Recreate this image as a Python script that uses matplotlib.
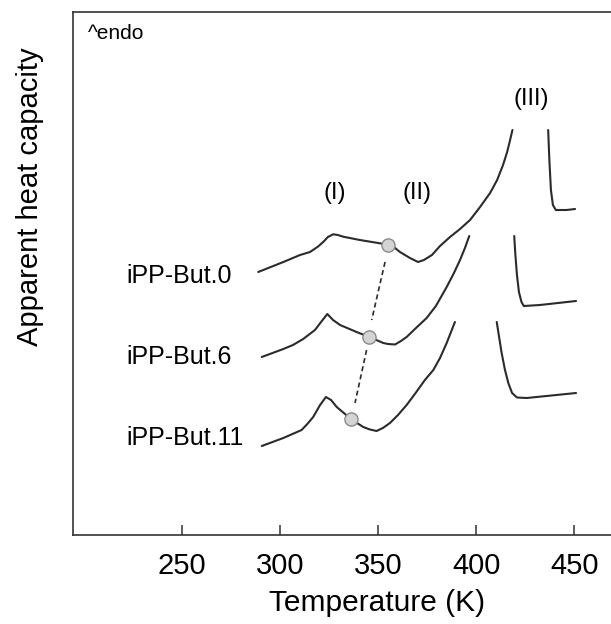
import matplotlib
matplotlib.use("Agg")
import matplotlib.pyplot as plt

plt.rcParams['font.family'] = ['Liberation Sans', 'DejaVu Sans']

# apparent heat capacity traces (arbitrary units, curves offset vertically)
but0_T = [289, 301.8, 310.3, 315.4, 319.5, 322.1, 324.5, 327.2, 329.6, 332.3, 340.8, 351, 355.2, 358.7,
          361.2, 366.3, 370.4, 373.4, 377.5, 381.6, 386.7, 391.8, 396.9, 402, 407.1, 410.7, 413.7, 415.8,
          417.3, 418.5]
but0_cp = [263, 273, 280, 283, 288.5, 293, 298, 300.7, 300, 298.3, 295, 291.7, 290, 287,
           283, 277, 273, 275, 280, 289, 298, 306, 315, 328, 342, 355, 370, 383,
           395, 405]
but0_T2 = [436.7, 437.3, 438.1, 439.1, 440.6, 446.1, 450.4]
but0_cp2 = [405, 375, 345, 330, 325, 325, 326]

but6_T = [290.8, 301.8, 306.7, 311.9, 317.9, 321.0, 324.2, 327.1, 330.7, 339.1, 345.6, 352.7, 355.1, 358.7,
          361.7, 364.6, 369.9, 374.8, 379.5, 385.0, 388.7, 391.8, 394.3, 396.5]
but6_cp = [178, 186, 190, 196, 205, 213, 221, 215, 210, 203, 198, 192, 191, 190.5,
           194, 198, 208, 217, 229, 248, 262, 275, 287, 299]
but6_T2 = [419.4, 420.0, 420.8, 421.8, 423.1, 424.3, 432.5, 450.9]
but6_cp2 = [299, 280, 260, 243, 233, 229, 230, 234]

but11_T = [290.8, 301.8, 311.1, 314.0, 317.0, 320.5, 323.5, 326.1, 329.0, 336.2, 342.5, 345.9, 349.3, 352.5,
           356.1, 360.2, 364.6, 368.8, 373.9, 378.2, 381.6, 385.0, 387.2, 389.2]
but11_cp = [89, 97, 105, 111, 118, 130, 138, 135, 128, 116, 108, 105.5, 104, 107,
            112, 120, 130, 141, 155, 165, 177, 192, 203, 213]
but11_T2 = [410.5, 411.7, 413.0, 414.7, 416.4, 418.3, 420.8, 425.8, 450.9]
but11_cp2 = [213, 198, 182, 165, 152, 142, 137.5, 137, 142]

# transition points (grey dots) and the dashed guide between them
dot_T = [355.2, 345.6, 336.2]
dot_cp = [290, 198, 116]
dash1_T = [353.6, 346.8]
dash1_cp = [273, 215]
dash2_T = [344.2, 338.3]
dash2_cp = [185, 132]

names = ['iPP-But.0', 'iPP-But.6', 'iPP-But.11']
name_cp = [252, 171, 90]

xticks = [250, 300, 350, 400, 450]

fig = plt.figure(figsize=(6.11, 6.24), dpi=100)
ax = fig.add_axes([72.7 / 611, 89 / 624, 1 - 72.7 / 611, (535 - 12.3) / 624])

lc = '#2b2b2b'
for T, cp in [(but0_T, but0_cp), (but0_T2, but0_cp2), (but6_T, but6_cp), (but6_T2, but6_cp2),
              (but11_T, but11_cp), (but11_T2, but11_cp2)]:
    ax.plot(T, cp, color=lc, lw=1.5, solid_capstyle='round', solid_joinstyle='round')

ax.plot(dash1_T, dash1_cp, color=lc, lw=1.2, ls=(0, (3, 2)))
ax.plot(dash2_T, dash2_cp, color=lc, lw=1.2, ls=(0, (3, 2)))
ax.plot(dot_T, dot_cp, ls='none', marker='o', ms=9.5, mfc='#d4d4d4', mec='#8a8a8a', mew=1.0, zorder=5)

for n, y in zip(names, name_cp):
    ax.text(222, y, n, fontsize=18, ha='left', va='baseline')

ax.text(327.8, 342, '(I)', fontsize=17, ha='center', va='center')
ax.text(370, 342, '(II)', fontsize=17, ha='center', va='center')
ax.text(427.9, 436, '(III)', fontsize=17, ha='center', va='center')
ax.text(202.3, 496, '^endo', fontsize=15, ha='left', va='baseline')

ax.set_xlim(194.5, 468.7)
ax.set_ylim(0, 522.7)
ax.set_xticks(xticks)
ax.set_yticks([])
ax.tick_params(axis='x', direction='in', length=7, width=1.1, color='#333333',
               labelsize=21, pad=12)
ax.spines['right'].set_visible(False)
for s in ['left', 'top', 'bottom']:
    ax.spines[s].set_linewidth(1.2)
    ax.spines[s].set_color('#333333')

fig.text(376.7 / 611, 1 - 603 / 624, 'Temperature (K)', fontsize=21.5, ha='center', va='center')
fig.text(30 / 611, 1 - 197 / 624, 'Apparent heat capacity', fontsize=21, ha='center', va='center',
         rotation=90)

fig.savefig('out.png', dpi=100)
